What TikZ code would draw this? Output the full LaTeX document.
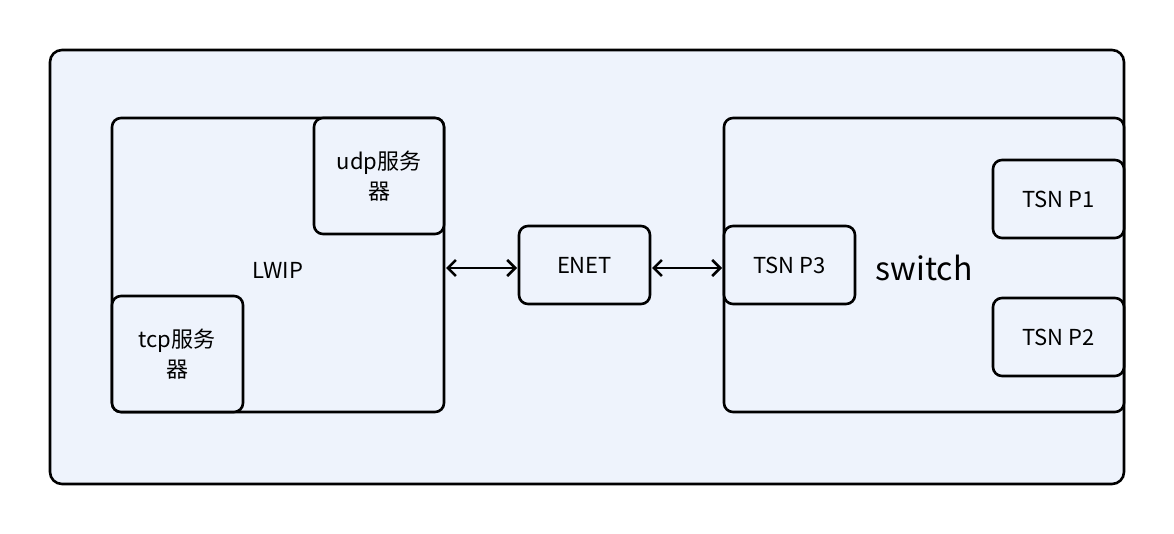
\documentclass[tikz,border=0pt]{standalone}
\usepackage{fontspec}
\setmainfont{Noto Sans CJK SC}
\usetikzlibrary{arrows.meta}
\definecolor{bgf}{HTML}{EEF3FC}
\begin{document}
\begin{tikzpicture}[x=1pt,y=-1pt,
  bx/.style={draw=black,line width=2.6pt,rounded corners=9pt,fill=bgf},
  lbl/.style={font=\fontsize{22}{30}\selectfont,align=center},
  arr/.style={line width=2.6pt,{Straight Barb[length=8pt,width=16pt]}-{Straight Barb[length=8pt,width=16pt]}}]
\useasboundingbox (0,0) rectangle (1174,534);
\draw[bx,rounded corners=12pt] (50,50) rectangle (1124,484);
\draw[bx] (112,118) rectangle (444,412);
\node[lbl] (lwip) at (278,270) {LWIP};
\draw[bx] (314,118) rectangle (444,234);
\node[lbl] (udp) at (379,176) {udp服务\\器};
\draw[bx] (112,296) rectangle (243,412);
\node[lbl] (tcp) at (177,354) {tcp服务\\器};
\draw[bx] (519,226) rectangle (650,304);
\node[lbl] (enet) at (584.5,265) {ENET};
\draw[bx] (724,118) rectangle (1124,412);
\node[lbl,font=\fontsize{32}{38}\selectfont] (sw) at (924,268) {switch};
\draw[bx] (724,226) rectangle (855,304);
\node[lbl] (p3) at (789.5,265) {TSN P3};
\draw[bx] (993,160) rectangle (1124,238);
\node[lbl] (p1) at (1058.5,199) {TSN P1};
\draw[bx] (993,298) rectangle (1124,376);
\node[lbl] (p2) at (1058.5,337) {TSN P2};
\coordinate (a1) at (446,268); \coordinate (a2) at (517,268);
\coordinate (b1) at (652,268); \coordinate (b2) at (722,268);
\draw[arr] (a1) -- (a2);
\draw[arr] (b1) -- (b2);
\end{tikzpicture}
\end{document}
